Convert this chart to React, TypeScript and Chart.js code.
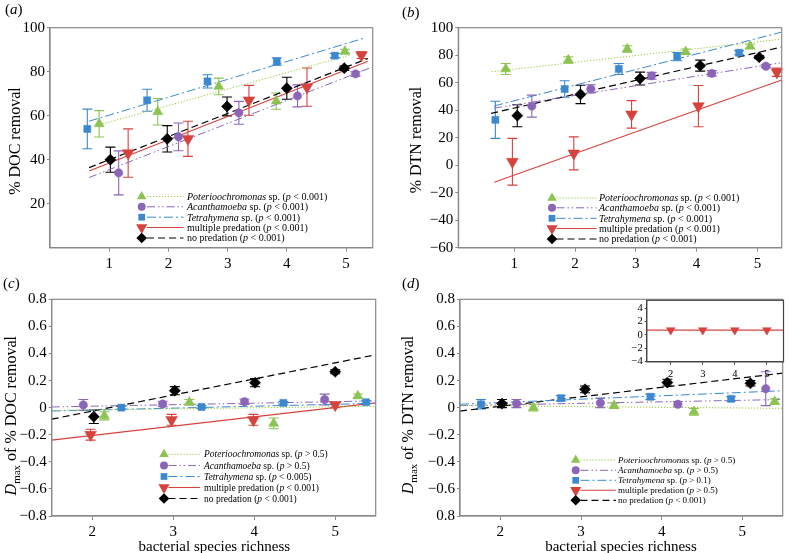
import React, { useEffect, useRef } from 'react';
import { Chart, registerables } from 'chart.js';

Chart.register(...registerables);

const SERIF = '"Liberation Serif", "Times New Roman", Times, serif';
const AXIS_GRAY = '#8a8a8a';

// ---------------- tick values / labels ----------------
const AB_X_TICKS = [1, 2, 3, 4, 5];
const AB_X_LABELS = ['1', '2', '3', '4', '5'];
const A_Y_TICKS = [20, 40, 60, 80, 100];
const A_Y_LABELS = ['20', '40', '60', '80', '100'];
const B_Y_TICKS = [-60, -40, -20, 0, 20, 40, 60, 80, 100];
const B_Y_LABELS = ['−60', '−40', '−20', '0', '20', '40', '60', '80', '100'];
const CD_X_TICKS = [2, 3, 4, 5];
const CD_X_LABELS = ['2', '3', '4', '5'];
const CD_Y_TICKS = [-0.8, -0.6, -0.4, -0.2, 0, 0.2, 0.4, 0.6, 0.8];
const C_Y_LABELS = ['−0.8', '−0.6', '−0.4', '−0.2', '0', '0.2', '0.4', '0.6', '0.8'];
const D_Y_LABELS = ['0.8', '−0.6', '−0.4', '−0.2', '0', '0.2', '0.4', '0.6', '0.8'];
const INSET_X_TICKS = [2, 3, 4, 5];
const INSET_X_LABELS = ['2', '3', '4', '5'];
const INSET_Y_TICKS = [-4, -2, 0, 2, 4];
const INSET_Y_LABELS = ['−4', '−2', '0', '2', '4'];

// ---------------- legend text ----------------
const SERIES_NAMES = [
  [{ t: 'Poterioochromonas', it: true }, { t: ' sp. (' }],
  [{ t: 'Acanthamoeba', it: true }, { t: ' sp. (' }],
  [{ t: 'Tetrahymena', it: true }, { t: ' sp. (' }],
  [{ t: 'multiple predation (' }],
  [{ t: 'no predation (' }],
];
const AB_PVALS = ['< 0.001', '< 0.001', '< 0.001', '< 0.001', '< 0.001'];
const C_PVALS = ['> 0.5', '> 0.5', '< 0.005', '< 0.001', '< 0.001'];
const D_PVALS = ['> 0.5', '> 0.5', '> 0.1', '> 0.5', '< 0.001'];

// ---------------- panel (a): % DOC removal ----------------
const A_POT_X = [0.83, 1.82, 2.85, 3.82, 4.98];
const A_POT_Y = [56.3, 61.8, 73.3, 66.6, 89.2];
const A_POT_E = [6, 6, 3.8, 3.7, 1];
const A_POT_FIT = [[0.89, 56.3], [5.07, 87.6]];
const A_ACA_X = [1.16, 2.17, 3.19, 4.18, 5.16];
const A_ACA_Y = [34, 50.4, 61.3, 69, 79];
const A_ACA_E = [10, 6.3, 5.2, 5, 1];
const A_ACA_FIT = [[0.66, 31.9], [5.45, 82.2]];
const A_TET_X = [0.63, 1.64, 2.66, 3.83, 4.81];
const A_TET_Y = [54, 67, 75.6, 84.6, 87.3];
const A_TET_E = [9, 5, 3, 1.7, 1];
const A_TET_FIT = [[0.66, 57.5], [5.3, 95.2]];
const A_MUL_X = [1.32, 2.33, 3.36, 4.34, 5.26];
const A_MUL_Y = [43, 49.5, 67, 73, 87.5];
const A_MUL_E = [11, 8, 6.8, 8.7, 1.5];
const A_MUL_FIT = [[0.66, 34.9], [5.37, 84.8]];
const A_NON_X = [1.02, 1.98, 2.99, 4.0, 4.97];
const A_NON_Y = [40, 49.5, 64.2, 72.5, 81.6];
const A_NON_E = [5.7, 6, 4.3, 5, 1];
const A_NON_FIT = [[0.66, 36.4], [5.37, 86]];

// ---------------- panel (b): % DTN removal ----------------
const B_POT_X = [0.86, 1.89, 2.86, 3.82, 4.88];
const B_POT_Y = [70, 76.5, 84.5, 82.5, 86.5];
const B_POT_E = [4, 2.4, 2.4, 2, 1.5];
const B_POT_FIT = [[0.63, 68], [5.4, 91.7]];
const B_ACA_X = [1.29, 2.26, 3.26, 4.25, 5.14];
const B_ACA_Y = [43, 55.5, 65, 66.8, 72];
const B_ACA_E = [8, 3, 2.5, 2, 1];
const B_ACA_FIT = [[0.67, 41.5], [5.4, 74.6]];
const B_TET_X = [0.69, 1.83, 2.72, 3.68, 4.7];
const B_TET_Y = [33, 55.4, 70, 79, 81.8];
const B_TET_E = [13.5, 6, 4, 3, 1.5];
const B_TET_FIT = [[0.67, 43.1], [5.4, 96.8]];
const B_MUL_X = [0.97, 1.98, 2.93, 4.03, 5.32];
const B_MUL_Y = [2.5, 8.6, 37, 43, 67.6];
const B_MUL_E = [17, 12, 10, 15, 3];
const B_MUL_FIT = [[0.67, -12.4], [5.4, 62]];
const B_NON_X = [1.05, 2.09, 3.07, 4.06, 5.03];
const B_NON_Y = [36, 51.5, 63, 72.4, 78.5];
const B_NON_E = [8, 6.7, 4.7, 4, 1];
const B_NON_FIT = [[0.62, 37.7], [5.4, 85.9]];

// ---------------- panel (c): Dmax of % DOC removal ----------------
const C_POT_X = [2.15, 3.2, 4.24, 5.28];
const C_POT_Y = [-0.06, 0.04, -0.116, 0.086];
const C_POT_E = [0.03, 0.02, 0.04, 0.015];
const C_POT_FIT = [[1.5, -0.02], [5.5, 0.01]];
const C_ACA_X = [1.89, 2.87, 3.88, 4.87];
const C_ACA_Y = [0.02, 0.027, 0.044, 0.06];
const C_ACA_E = [0.04, 0.02, 0.02, 0.04];
const C_ACA_FIT = [[1.5, 0.005], [5.5, 0.05]];
const C_TET_X = [2.36, 3.35, 4.36, 5.38];
const C_TET_Y = [0, 0.005, 0.035, 0.04];
const C_TET_E = [0.01, 0.01, 0.01, 0.01];
const C_TET_FIT = [[1.5, -0.025], [5.5, 0.032]];
const C_MUL_X = [1.98, 2.98, 3.99, 5.0];
const C_MUL_Y = [-0.2, -0.09, -0.09, 0.02];
const C_MUL_E = [0.04, 0.04, 0.04, 0.02];
const C_MUL_FIT = [[1.5, -0.24], [5.5, 0.035]];
const C_NON_X = [2.02, 3.02, 4.01, 5.0];
const C_NON_Y = [-0.067, 0.125, 0.184, 0.265];
const C_NON_E = [0.05, 0.03, 0.03, 0.015];
const C_NON_FIT = [[1.5, -0.085], [5.5, 0.39]];

// ---------------- panel (d): Dmax of % DTN removal ----------------
const D_POT_X = [2.41, 3.41, 4.4, 5.4];
const D_POT_Y = [0.0, 0.015, -0.03, 0.045];
const D_POT_E = [0.025, 0.02, 0.025, 0.02];
const D_POT_FIT = [[1.5, 0.015], [5.5, -0.005]];
const D_ACA_X = [2.2, 3.24, 4.2, 5.29];
const D_ACA_Y = [0.03, 0.035, 0.025, 0.14];
const D_ACA_E = [0.03, 0.035, 0.02, 0.125];
const D_ACA_FIT = [[1.5, 0.015], [5.5, 0.06]];
const D_TET_X = [1.76, 2.75, 3.86, 4.86];
const D_TET_Y = [0.025, 0.07, 0.08, 0.065];
const D_TET_E = [0.035, 0.02, 0.02, 0.015];
const D_TET_FIT = [[1.5, 0.025], [5.5, 0.125]];
const D_NON_X = [2.02, 3.05, 4.07, 5.1];
const D_NON_Y = [0.03, 0.135, 0.185, 0.18];
const D_NON_E = [0.03, 0.025, 0.025, 0.02];
const D_NON_FIT = [[1.5, -0.025], [5.5, 0.255]];

// inset of (d): multiple predation
const INSET_MUL_X = [2, 3, 4, 5];
const INSET_MUL_Y = [0.7, 0.7, 0.7, 0.7];
const INSET_MUL_FIT = [[1.25, 0.7], [5.52, 0.7]];

// ---------------- styles ----------------
const STYLES: any = {
  pot: { color: '#8dc353', line: '#97c93c', shape: 'triangle', rot: 0, r: 5.8, dash: [1.2, 1.8], lw: 1 },
  aca: { color: '#8b66b8', line: '#8b66b8', shape: 'circle', rot: 0, r: 4.2, dash: [8, 3, 1.5, 2.5, 1.5, 3], lw: 1 },
  tet: { color: '#3c88cf', line: '#3c88cf', shape: 'rect', rot: 0, r: 5, dash: [9, 3, 2, 3], lw: 1 },
  mul: { color: '#d6433f', line: '#d6433f', shape: 'triangle', rot: 180, r: 6.8, dash: [], lw: 1.1 },
  non: { color: '#000000', line: '#000000', shape: 'rectRot', rot: 0, r: 5.6, dash: [7, 4], lw: 1.2 },
};
const LEGEND_KEYS = ['pot', 'aca', 'tet', 'mul', 'non'];

const ser = (key: string, x: number[], y: number[], err: number[] | null, fit: number[][] | null, r?: number) => ({ key, x, y, err, fit, r });

const PANELS: any[] = [
  {
    id: 'a', left: 0, top: 0, width: 390, height: 270, area: [50, 27.7, 372.7, 247.7], yAxisW: 40, xAxisH: 22,
    xMin: 0, xMax: 5.45, yMin: 0, yMax: 100,
    xTicks: AB_X_TICKS, xLabels: AB_X_LABELS, yTicks: A_Y_TICKS, yLabels: A_Y_LABELS, tickSize: 15,
    series: [
      ser('pot', A_POT_X, A_POT_Y, A_POT_E, A_POT_FIT),
      ser('aca', A_ACA_X, A_ACA_Y, A_ACA_E, A_ACA_FIT),
      ser('tet', A_TET_X, A_TET_Y, A_TET_E, A_TET_FIT),
      ser('mul', A_MUL_X, A_MUL_Y, A_MUL_E, A_MUL_FIT),
      ser('non', A_NON_X, A_NON_Y, A_NON_E, A_NON_FIT),
    ],
    legend: { markerX: 141.7, lineX0: 147, lineX1: 183.5, textX: 187, rows: [196.5, 206.8, 217.2, 227.5, 238], size: 10, pvals: AB_PVALS },
    yTitle: { segs: [{ t: '% DOC removal' }], x: 15, y: 141, size: 16 },
    label: { letter: 'a', x: 5, y: 9.5 },
  },
  {
    id: 'b', left: 390, top: 0, width: 399, height: 270, area: [458.3, 27.7, 781.7, 247.7], yAxisW: 40, xAxisH: 22,
    xMin: 0.08, xMax: 5.4, yMin: -60, yMax: 100,
    xTicks: AB_X_TICKS, xLabels: AB_X_LABELS, yTicks: B_Y_TICKS, yLabels: B_Y_LABELS, tickSize: 15,
    series: [
      ser('pot', B_POT_X, B_POT_Y, B_POT_E, B_POT_FIT),
      ser('aca', B_ACA_X, B_ACA_Y, B_ACA_E, B_ACA_FIT),
      ser('tet', B_TET_X, B_TET_Y, B_TET_E, B_TET_FIT),
      ser('mul', B_MUL_X, B_MUL_Y, B_MUL_E, B_MUL_FIT),
      ser('non', B_NON_X, B_NON_Y, B_NON_E, B_NON_FIT),
    ],
    legend: { markerX: 552, lineX0: 556.5, lineX1: 596.5, textX: 599, rows: [198, 207.8, 218.3, 228.5, 239], size: 10, pvals: AB_PVALS },
    yTitle: { segs: [{ t: '% DTN removal' }], x: 416, y: 140, size: 16 },
    label: { letter: 'b', x: 402, y: 12.5 },
  },
  {
    id: 'c', left: 0, top: 270, width: 390, height: 283, area: [51.7, 299.3, 375.7, 516], yAxisW: 40, xAxisH: 22,
    xMin: 1.5, xMax: 5.5, yMin: -0.8, yMax: 0.8,
    xTicks: CD_X_TICKS, xLabels: CD_X_LABELS, yTicks: CD_Y_TICKS, yLabels: C_Y_LABELS, tickSize: 15,
    series: [
      ser('pot', C_POT_X, C_POT_Y, C_POT_E, C_POT_FIT),
      ser('aca', C_ACA_X, C_ACA_Y, C_ACA_E, C_ACA_FIT),
      ser('tet', C_TET_X, C_TET_Y, C_TET_E, C_TET_FIT),
      ser('mul', C_MUL_X, C_MUL_Y, C_MUL_E, C_MUL_FIT),
      ser('non', C_NON_X, C_NON_Y, C_NON_E, C_NON_FIT),
    ],
    legend: { markerX: 164, lineX0: 168.5, lineX1: 200, textX: 204, rows: [454.3, 465.5, 476.5, 487.5, 498.5], size: 9.5, pvals: C_PVALS },
    yTitle: { segs: [{ t: 'D', it: true }, { t: 'max', size: 11, dy: 4 }, { t: ' of % DOC removal' }], x: 11, y: 415.7, size: 16 },
    xTitle: { text: 'bacterial species richness', x: 214.3, y: 546, size: 15 },
    label: { letter: 'c', x: 3, y: 283.5 },
  },
  {
    id: 'd', left: 390, top: 270, width: 399, height: 283, area: [460, 299.3, 788.2, 516], yAxisW: 40, xAxisH: 22,
    xMin: 1.5, xMax: 5.5, yMin: -0.8, yMax: 0.8,
    xTicks: CD_X_TICKS, xLabels: CD_X_LABELS, yTicks: CD_Y_TICKS, yLabels: D_Y_LABELS, tickSize: 15,
    series: [
      ser('pot', D_POT_X, D_POT_Y, D_POT_E, D_POT_FIT),
      ser('aca', D_ACA_X, D_ACA_Y, D_ACA_E, D_ACA_FIT),
      ser('tet', D_TET_X, D_TET_Y, D_TET_E, D_TET_FIT),
      ser('non', D_NON_X, D_NON_Y, D_NON_E, D_NON_FIT),
    ],
    legend: { markerX: 575.7, lineX0: 580.5, lineX1: 616, textX: 618, rows: [460, 470.3, 480.3, 490.3, 500.3], size: 9, pvals: D_PVALS },
    yTitle: { segs: [{ t: 'D', it: true }, { t: 'max', size: 11, dy: 4 }, { t: ' of % DTN removal' }], x: 407.5, y: 415, size: 16 },
    xTitle: { text: 'bacterial species richness', x: 621, y: 546, size: 15 },
    label: { letter: 'd', x: 402, y: 283.5 },
  },
  {
    id: 'inset', left: 620, top: 292, width: 169, height: 90, area: [646.7, 299.3, 785, 361.7], yAxisW: 20, xAxisH: 16,
    xMin: 1.25, xMax: 5.52, yMin: -4, yMax: 5.15,
    xTicks: INSET_X_TICKS, xLabels: INSET_X_LABELS, yTicks: INSET_Y_TICKS, yLabels: INSET_Y_LABELS, tickSize: 10.5,
    tickLen: 3, frame: '#444', fillArea: true,
    series: [ser('mul', INSET_MUL_X, INSET_MUL_Y, null, INSET_MUL_FIT, 5)],
  },
];

// ---------------- drawing helpers ----------------
function drawMarker(ctx: CanvasRenderingContext2D, st: any, x: number, y: number, r: number) {
  ctx.save();
  ctx.fillStyle = st.color;
  ctx.beginPath();
  if (st.shape === 'circle') {
    ctx.arc(x, y, r, 0, Math.PI * 2);
  } else if (st.shape === 'rect') {
    const s = Math.SQRT1_2 * r;
    ctx.rect(x - s, y - s, 2 * s, 2 * s);
  } else if (st.shape === 'rectRot') {
    ctx.moveTo(x - r, y);
    ctx.lineTo(x, y - r);
    ctx.lineTo(x + r, y);
    ctx.lineTo(x, y + r);
    ctx.closePath();
  } else {
    let rad = (st.rot * Math.PI) / 180;
    ctx.moveTo(x + Math.sin(rad) * r, y - Math.cos(rad) * r);
    rad += (2 * Math.PI) / 3;
    ctx.lineTo(x + Math.sin(rad) * r, y - Math.cos(rad) * r);
    rad += (2 * Math.PI) / 3;
    ctx.lineTo(x + Math.sin(rad) * r, y - Math.cos(rad) * r);
    ctx.closePath();
  }
  ctx.fill();
  ctx.restore();
}

function drawRich(ctx: CanvasRenderingContext2D, segs: any[], x: number, y: number, size: number, center: boolean, rotate: boolean) {
  ctx.save();
  ctx.translate(x, y);
  if (rotate) ctx.rotate(-Math.PI / 2);
  ctx.fillStyle = '#000';
  ctx.textAlign = 'left';
  ctx.textBaseline = 'alphabetic';
  const fontOf = (s: any) => `${s.it ? 'italic ' : ''}${s.size ?? size}px ${SERIF}`;
  const widths = segs.map((s) => {
    ctx.font = fontOf(s);
    return ctx.measureText(s.t).width;
  });
  const total = widths.reduce((a, b) => a + b, 0);
  let cx = center ? -total / 2 : 0;
  const base = size * 0.33;
  segs.forEach((s, i) => {
    ctx.font = fontOf(s);
    ctx.fillText(s.t, cx, base + (s.dy ?? 0));
    cx += widths[i];
  });
  ctx.restore();
}

function decorPlugin(spec: any) {
  const ox = spec.left;
  const oy = spec.top;
  return {
    id: 'decor_' + spec.id,
    beforeDraw(chart: any) {
      if (!spec.fillArea) return;
      const { left, top, width, height } = chart.chartArea;
      const ctx = chart.ctx;
      ctx.save();
      ctx.fillStyle = '#ffffff';
      ctx.fillRect(left, top, width, height);
      ctx.restore();
    },
    beforeDatasetsDraw(chart: any) {
      const ctx = chart.ctx;
      const xs = chart.scales.x;
      const ys = chart.scales.y;
      spec.series.forEach((s: any) => {
        if (!s.err) return;
        const st = STYLES[s.key];
        ctx.save();
        ctx.strokeStyle = st.color;
        ctx.lineWidth = 1.1;
        s.x.forEach((xv: number, i: number) => {
          const px = xs.getPixelForValue(xv);
          const p1 = ys.getPixelForValue(s.y[i] + s.err[i]);
          const p2 = ys.getPixelForValue(s.y[i] - s.err[i]);
          const cap = 5;
          ctx.beginPath();
          ctx.moveTo(px, p1);
          ctx.lineTo(px, p2);
          ctx.moveTo(px - cap, p1);
          ctx.lineTo(px + cap, p1);
          ctx.moveTo(px - cap, p2);
          ctx.lineTo(px + cap, p2);
          ctx.stroke();
        });
        ctx.restore();
      });
    },
    afterDraw(chart: any) {
      const ctx = chart.ctx;
      const { left, top, width, height } = chart.chartArea;
      ctx.save();
      ctx.strokeStyle = spec.frame || AXIS_GRAY;
      ctx.lineWidth = 1.2;
      ctx.strokeRect(left, top, width, height);
      ctx.restore();

      const lg = spec.legend;
      if (lg) {
        LEGEND_KEYS.forEach((key, i) => {
          const st = STYLES[key];
          const y = lg.rows[i] - oy;
          ctx.save();
          ctx.strokeStyle = st.line;
          ctx.lineWidth = st.lw;
          ctx.setLineDash(st.dash);
          ctx.beginPath();
          ctx.moveTo(lg.lineX0 - ox, y);
          ctx.lineTo(lg.lineX1 - ox, y);
          ctx.stroke();
          ctx.restore();
          drawMarker(ctx, st, lg.markerX - ox, y, st.r * 0.95);
          const segs = [...SERIES_NAMES[i], { t: 'p', it: true }, { t: ' ' + lg.pvals[i] + ')' }];
          drawRich(ctx, segs, lg.textX - ox, y, lg.size, false, false);
        });
      }
      if (spec.yTitle) {
        const t = spec.yTitle;
        drawRich(ctx, t.segs, t.x - ox, t.y - oy, t.size, true, true);
      }
      if (spec.xTitle) {
        const t = spec.xTitle;
        drawRich(ctx, [{ t: t.text }], t.x - ox, t.y - oy, t.size, true, false);
      }
      if (spec.label) {
        const l = spec.label;
        drawRich(ctx, [{ t: '(' }, { t: l.letter, it: true }, { t: ')' }], l.x - ox, l.y - oy, 15, false, false);
      }
    },
  };
}

function makeChart(canvas: HTMLCanvasElement, spec: any) {
  const [al, at, ar, ab] = spec.area;
  const tickLen = spec.tickLen ?? 4;
  const datasets: any[] = [];
  spec.series.forEach((s: any) => {
    const st = STYLES[s.key];
    datasets.push({
      data: s.x.map((x: number, i: number) => ({ x, y: s.y[i] })),
      showLine: false,
      pointStyle: st.shape,
      pointRotation: st.rot,
      pointRadius: s.r ?? st.r,
      pointHoverRadius: s.r ?? st.r,
      pointBackgroundColor: st.color,
      pointBorderColor: st.color,
      pointBorderWidth: 0.5,
      clip: false,
      order: 0,
    });
  });
  spec.series.forEach((s: any) => {
    if (!s.fit) return;
    const st = STYLES[s.key];
    datasets.push({
      data: s.fit.map((p: number[]) => ({ x: p[0], y: p[1] })),
      showLine: true,
      pointRadius: 0,
      borderColor: st.line,
      borderWidth: st.lw,
      borderDash: st.dash,
      fill: false,
      order: 1,
    });
  });
  const tickFont = { family: SERIF, size: spec.tickSize };
  return new Chart(canvas, {
    type: 'scatter',
    data: { datasets },
    options: {
      animation: false,
      responsive: false,
      devicePixelRatio: 1,
      events: [],
      layout: {
        padding: {
          left: al - spec.left - spec.yAxisW,
          top: at - spec.top,
          right: spec.left + spec.width - ar,
          bottom: spec.top + spec.height - ab - spec.xAxisH,
        },
      },
      plugins: { legend: { display: false }, tooltip: { enabled: false }, title: { display: false } },
      scales: {
        x: {
          type: 'linear',
          min: spec.xMin,
          max: spec.xMax,
          afterBuildTicks: (sc: any) => { sc.ticks = spec.xTicks.map((v: number) => ({ value: v })); },
          afterFit: (sc: any) => { sc.height = spec.xAxisH; },
          ticks: {
            autoSkip: false,
            maxRotation: 0,
            padding: 3,
            color: '#000',
            font: tickFont,
            callback: (_v: any, i: number) => spec.xLabels[i],
          },
          grid: { drawOnChartArea: false, drawTicks: true, tickLength: tickLen, color: spec.frame || AXIS_GRAY, tickColor: spec.frame || AXIS_GRAY },
          border: { display: true, color: spec.frame || AXIS_GRAY, width: 1.2 },
        },
        y: {
          type: 'linear',
          min: spec.yMin,
          max: spec.yMax,
          afterBuildTicks: (sc: any) => { sc.ticks = spec.yTicks.map((v: number) => ({ value: v })); },
          afterFit: (sc: any) => { sc.width = spec.yAxisW; },
          ticks: {
            autoSkip: false,
            padding: 2,
            color: '#000',
            font: tickFont,
            callback: (_v: any, i: number) => spec.yLabels[i],
          },
          grid: { drawOnChartArea: false, drawTicks: true, tickLength: tickLen - 1, color: spec.frame || AXIS_GRAY, tickColor: spec.frame || AXIS_GRAY },
          border: { display: true, color: spec.frame || AXIS_GRAY, width: 1.2 },
        },
      },
    },
    plugins: [decorPlugin(spec)],
  } as any);
}

export default function App() {
  const refs = useRef<(HTMLCanvasElement | null)[]>([]);
  useEffect(() => {
    const charts = PANELS.map((spec, i) => makeChart(refs.current[i] as HTMLCanvasElement, spec));
    return () => charts.forEach((c) => c.destroy());
  }, []);
  return (
    <div style={{ position: 'absolute', left: 0, top: 0, width: 789, height: 553, background: '#ffffff', overflow: 'hidden' }}>
      {PANELS.map((p, i) => (
        <canvas
          key={p.id}
          ref={(el) => { refs.current[i] = el; }}
          width={p.width}
          height={p.height}
          style={{ position: 'absolute', left: p.left, top: p.top, width: p.width, height: p.height }}
        />
      ))}
    </div>
  );
}
